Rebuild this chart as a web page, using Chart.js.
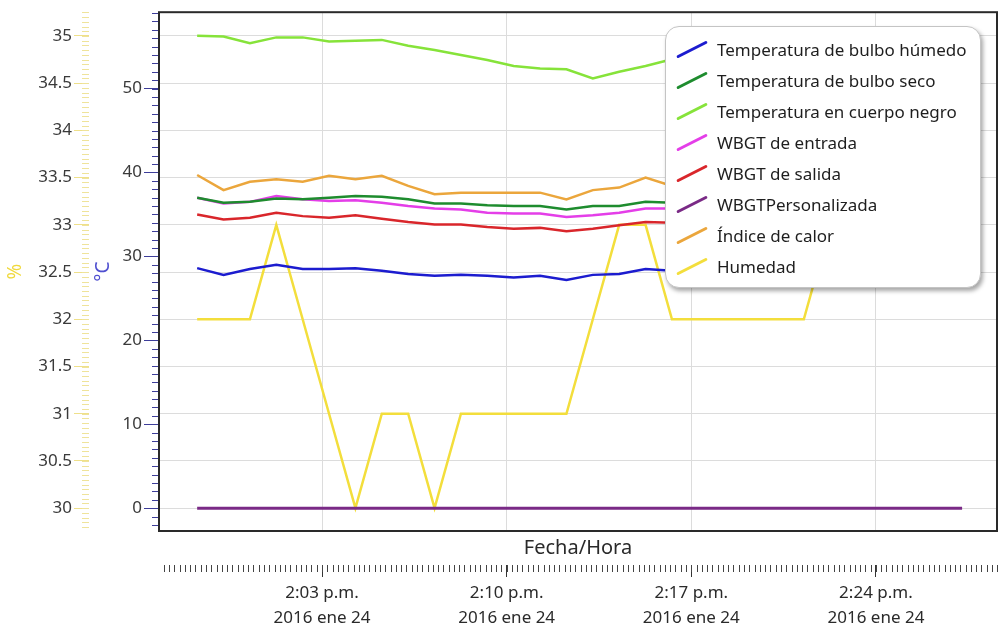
<!DOCTYPE html>
<html>
<head>
<meta charset="utf-8">
<script src="https://cdn.jsdelivr.net/npm/chart.js@4.4.0/dist/chart.umd.min.js"></script>
<style>
  html, body { margin: 0; padding: 0; background: #fff; }
  #wrap { position: relative; width: 1000px; height: 633px; }
  #chart { display: block; }
  #legend {
    position: absolute; left: 665px; top: 26px; width: 316px; height: 262px;
    box-sizing: border-box; padding-top: 7px;
    background: #fff; border: 1px solid #c4c4c4; border-radius: 14px;
    box-shadow: 2px 3px 4px rgba(0, 0, 0, 0.35);
    font-family: "Noto Sans", "Open Sans", sans-serif; font-size: 17px; color: #1e1e1e;
  }
  .item { display: flex; align-items: center; height: 31px; white-space: nowrap; }
  .sym { display: inline-block; width: 34px; height: 3px; border-radius: 2px;
         margin: 0 8px 0 9px; transform: rotate(-27deg); }
</style>
</head>
<body>
<div id="wrap">
  <canvas id="chart" width="1000" height="633"></canvas>
  <div id="legend"></div>
</div>
<script>
// Sample times (one reading per minute)
const sampleTimes = [
  "13:58:16", "13:59:16", "14:00:16", "14:01:16", "14:02:16", "14:03:16",
  "14:04:16", "14:05:16", "14:06:16", "14:07:16", "14:08:16", "14:09:16",
  "14:10:16", "14:11:16", "14:12:16", "14:13:16", "14:14:16", "14:15:16",
  "14:16:16", "14:17:16", "14:18:16", "14:19:16", "14:20:16", "14:21:16",
  "14:22:16", "14:23:16", "14:24:16", "14:25:16", "14:26:16", "14:27:16"
];

// °C series
const bulboHumedo = [28.6, 27.8, 28.5, 29.0, 28.5, 28.5, 28.6, 28.3, 27.9, 27.7, 27.8, 27.7, 27.5, 27.7, 27.2,
                     27.8, 27.9, 28.5, 28.3, 28.4, 28.5, 28.4, 28.6, 28.5, 28.7, 28.6, 28.4, 28.5, 28.6, 28.5];
const bulboSeco = [37.0, 36.4, 36.5, 36.9, 36.8, 37.0, 37.2, 37.1, 36.8, 36.3, 36.3, 36.1, 36.0, 36.0, 35.6,
                   36.0, 36.0, 36.5, 36.4, 36.6, 36.8, 36.7, 36.9, 37.0, 37.1, 37.0, 36.9, 37.1, 37.2, 37.1];
const cuerpoNegro = [56.3, 56.2, 55.4, 56.1, 56.1, 55.6, 55.7, 55.8, 55.1, 54.6, 54.0, 53.4, 52.7, 52.4, 52.3,
                     51.2, 52.0, 52.7, 53.5, 53.8, 54.1, 54.3, 54.6, 54.8, 55.0, 55.1, 55.0, 55.2, 55.3, 55.2];
const wbgtEntrada = [37.0, 36.3, 36.5, 37.2, 36.8, 36.6, 36.7, 36.4, 36.0, 35.7, 35.6, 35.2, 35.1, 35.1, 34.7,
                     34.9, 35.2, 35.7, 35.7, 35.9, 36.0, 35.9, 36.1, 36.2, 36.3, 36.2, 36.1, 36.3, 36.4, 36.3];
const wbgtSalida = [35.0, 34.4, 34.6, 35.2, 34.8, 34.6, 34.9, 34.5, 34.1, 33.8, 33.8, 33.5, 33.3, 33.4, 33.0,
                    33.3, 33.7, 34.1, 34.0, 34.2, 34.3, 34.2, 34.4, 34.5, 34.6, 34.5, 34.4, 34.6, 34.7, 34.6];
const wbgtPersonalizada = [0, 0, 0, 0, 0, 0, 0, 0, 0, 0, 0, 0, 0, 0, 0,
                           0, 0, 0, 0, 0, 0, 0, 0, 0, 0, 0, 0, 0, 0, 0];
const indiceCalor = [39.7, 37.9, 38.9, 39.2, 38.9, 39.6, 39.2, 39.6, 38.4, 37.4, 37.6, 37.6, 37.6, 37.6, 36.8,
                     37.9, 38.2, 39.4, 38.4, 38.8, 39.0, 38.9, 39.2, 39.4, 39.6, 39.5, 39.3, 39.6, 39.8, 39.7];
// % series
const humedad = [32, 32, 32, 33, 32, 31, 30, 31, 31, 30, 31, 31, 31, 31, 31,
                 32, 33, 33, 32, 32, 32, 32, 32, 32, 33, 33, 33, 33, 33, 33];

const seriesNames = [
  "Temperatura de bulbo húmedo", "Temperatura de bulbo seco", "Temperatura en cuerpo negro",
  "WBGT de entrada", "WBGT de salida", "WBGTPersonalizada", "Índice de calor", "Humedad"
];
const seriesColors = ["#1c1ccf", "#1e8c2e", "#86e33a", "#e43ee8", "#d9262b", "#7a2a86", "#eba63c", "#f3de3c"];

// X axis ticks (minutes after 14:00) and their labels
const tickMinutes = [3, 10, 17, 24];
const tickLabels = [
  ["2:03 p.m.", "2016 ene 24"], ["2:10 p.m.", "2016 ene 24"],
  ["2:17 p.m.", "2016 ene 24"], ["2:24 p.m.", "2016 ene 24"]
];

const FONT = '"Noto Sans", "Open Sans", sans-serif';

// minutes after 14:00 for a "HH:MM:SS" string
function toMinutes(t) {
  const [h, m, s] = t.split(":").map(Number);
  return (h - 14) * 60 + m + s / 60;
}

function toPoints(values) {
  return values.map((v, i) => ({ x: toMinutes(sampleTimes[i]), y: v }));
}

const seriesValues = [bulboHumedo, bulboSeco, cuerpoNegro, wbgtEntrada, wbgtSalida, wbgtPersonalizada, indiceCalor, humedad];

const datasets = seriesValues.map((vals, i) => ({
  label: seriesNames[i],
  data: toPoints(vals),
  borderColor: seriesColors[i],
  backgroundColor: seriesColors[i],
  borderWidth: i === 5 ? 3 : 2.5,
  pointRadius: 0,
  tension: 0,
  yAxisID: i === 7 ? "yPct" : "yC",
}));

// Minor tick marks and the plot frame
const extras = {
  id: "extras",
  afterDraw(chart) {
    const { ctx, chartArea } = chart;
    const { yPct, yC, x2 } = chart.scales;
    ctx.save();
    ctx.lineWidth = 1;

    ctx.strokeStyle = "#efe39a";
    for (let k = Math.ceil(yPct.min / 0.05); k <= Math.floor(yPct.max / 0.05); k++) {
      const y = Math.round(yPct.getPixelForValue(k * 0.05)) + 0.5;
      ctx.beginPath(); ctx.moveTo(yPct.right - 7, y); ctx.lineTo(yPct.right, y); ctx.stroke();
    }

    ctx.strokeStyle = "#3d3d9a";
    for (let k = Math.ceil(yC.min); k <= Math.floor(yC.max); k++) {
      const y = Math.round(yC.getPixelForValue(k)) + 0.5;
      ctx.beginPath(); ctx.moveTo(yC.right - 7, y); ctx.lineTo(yC.right - 1, y); ctx.stroke();
    }

    ctx.strokeStyle = "#444";
    for (let k = Math.ceil(x2.min / 0.2); k * 0.2 <= x2.max + 0.1; k++) {
      const x = Math.round(x2.getPixelForValue(k * 0.2)) + 0.5;
      ctx.beginPath(); ctx.moveTo(x, x2.top); ctx.lineTo(x, x2.top + 7); ctx.stroke();
    }

    ctx.strokeStyle = "#2a2a2a";
    ctx.lineWidth = 2;
    ctx.strokeRect(chartArea.left, chartArea.top, chartArea.right - chartArea.left, chartArea.bottom - chartArea.top);
    ctx.restore();
  }
};

const chart = new Chart(document.getElementById("chart").getContext("2d"), {
  type: "line",
  data: { datasets },
  plugins: [extras],
  options: {
    responsive: false,
    animation: false,
    layout: { padding: { top: 8, right: 3, left: 0, bottom: 0 } },
    plugins: { legend: { display: false }, tooltip: { enabled: false } },
    scales: {
      x: {
        type: "linear", position: "bottom", weight: 0,
        min: -3.18, max: 28.59,
        afterBuildTicks: (s) => { s.ticks = tickMinutes.map(v => ({ value: v })); },
        afterFit: (s) => { s.height = 34; },
        ticks: { display: false },
        grid: { color: "#dcdcdc", drawTicks: false },
        border: { display: false },
        title: { display: true, text: "Fecha/Hora", color: "#2a2a2a",
                 font: { family: FONT, size: 20 }, padding: { top: 0, bottom: 5 } },
      },
      x2: {
        type: "linear", position: "bottom", weight: 1,
        min: -3.18, max: 28.59,
        afterBuildTicks: (s) => { s.ticks = tickMinutes.map(v => ({ value: v })); },
        afterFit: (s) => { s.height = 68; },
        ticks: {
          autoSkip: false, maxRotation: 0, padding: 3, color: "#2a2a2a",
          font: { family: FONT, size: 17, lineHeight: 1.5 },
          callback: (v) => tickLabels[tickMinutes.indexOf(v)],
        },
        grid: { drawOnChartArea: false, tickLength: 12, tickColor: "#333" },
        border: { display: false },
      },
      yPct: {
        type: "linear", position: "left", weight: 1,
        min: 29.758, max: 35.252,
        afterFit: (s) => { s.width = 89; },
        ticks: { stepSize: 0.5, includeBounds: false, padding: 2, color: "#3a3a3a",
                 font: { family: FONT, size: 17 },
                 callback: (v) => String(Math.round(v * 10) / 10) },
        grid: { color: "#dcdcdc", tickLength: 15, tickColor: "#efe08a" },
        border: { display: false },
        title: { display: true, text: "%", color: "#f0d93c",
                 font: { family: FONT, size: 19 }, padding: { top: 4, bottom: 0 } },
      },
      yC: {
        type: "linear", position: "left", weight: 0,
        min: -2.72, max: 59.1,
        afterFit: (s) => { s.width = 70; },
        ticks: { stepSize: 10, includeBounds: false, padding: 2, color: "#3a3a3a",
                 font: { family: FONT, size: 17 } },
        grid: { drawOnChartArea: false, tickLength: 15, tickColor: "#3d3d9a" },
        border: { display: false },
        title: { display: true, text: "°C", color: "#5050d0",
                 font: { family: FONT, size: 19 }, padding: { top: 3, bottom: 0 } },
      },
    },
  },
});

// Legend drawn as a floating box over the plot
const legendEl = document.getElementById("legend");
chart.data.datasets.forEach((ds) => {
  const row = document.createElement("div");
  row.className = "item";
  const sym = document.createElement("span");
  sym.className = "sym";
  sym.style.background = ds.borderColor;
  const txt = document.createElement("span");
  txt.textContent = ds.label;
  row.append(sym, txt);
  legendEl.appendChild(row);
});
</script>
</body>
</html>
